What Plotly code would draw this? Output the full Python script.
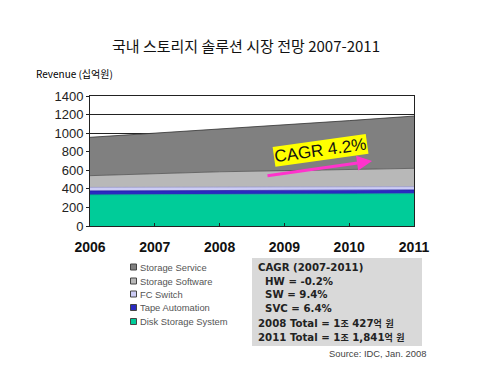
import re
import plotly.graph_objects as go

years = [2006, 2007, 2008, 2009, 2010, 2011]
series_names = ["Disk Storage System", "Tape Automation", "FC Switch", "Storage Software", "Storage Service"]
disk = [335, 337, 339, 342, 345, 348]
tape = [43, 42, 41, 40, 40, 40]
fc = [38, 38, 37, 37, 36, 36]
software = [126, 146, 167, 177, 188, 197]
service = [413, 435, 457, 491, 526, 563]
series_values = [disk, tape, fc, software, service]
colors = ["#00cc99", "#2a2ac0", "#ccccf5", "#b8b8b8", "#808080"]
line_colors = ["#00b488", "#1a1aa0", "#9999cc", "#555555", "#333333"]
yticks = [0, 200, 400, 600, 800, 1000, 1200, 1400]
box_lines = ["CAGR (2007-2011)", "  HW = -0.2%", "  SW = 9.4%",
             "  SVC = 6.4%", "2008 Total = 1조 427억 원", "2011 Total = 1조 1,841억 원"]

fig = go.Figure()
for name, vals, c, lc in zip(series_names, series_values, colors, line_colors):
    fig.add_trace(go.Scatter(x=years, y=vals, name=name, stackgroup="one", mode="lines",
                             fillcolor=c, line=dict(color=lc, width=0.8), showlegend=False))

OFF = 8  # page body margin
W, H = 492, 367
# desired plot area in screen pixels: x 90-414, y 96-226
ml, mr, mt, mb = 90 - OFF, W - (414 - OFF), 96 - OFF, H - (226 - OFF)
fig.update_layout(
    width=W, height=H, margin=dict(l=ml, r=mr, t=mt, b=mb),
    paper_bgcolor="white", plot_bgcolor="white",
    font=dict(family="Liberation Sans, Arial", color="#222"),
    xaxis=dict(range=[2006, 2011], tickvals=years, ticktext=[f"<b>{y}</b>" for y in years],
               ticks="inside", ticklen=3, tickcolor="#222", showgrid=False,
               showline=True, linecolor="#222", linewidth=1, mirror=True,
               tickfont=dict(size=14, color="#111"), ticklabelstandoff=8),
    yaxis=dict(range=[0, 1400], tickvals=yticks, ticks="outside", ticklen=3, tickcolor="#222",
               showgrid=True, gridcolor="#222", gridwidth=1,
               showline=True, linecolor="#222", linewidth=1, mirror=True,
               tickfont=dict(size=13, color="#222"), zeroline=False),
)

def ppx(x, y):
    """screen pixel -> paper coords"""
    pw = W - ml - mr
    ph = H - mt - mb
    return (x - OFF - ml) / pw, 1 - (y - OFF - mt) / ph

annotations = []
shapes = []

tx, ty = ppx(246, 45)
annotations.append(dict(text="국내 스토리지 솔루션 시장 전망 2007-2011", xref="paper", yref="paper",
                        x=tx, y=ty, showarrow=False, xanchor="center", yanchor="middle",
                        font=dict(family="Noto Sans CJK KR", size=15, color="#111")))
tx, ty = ppx(34, 73)
annotations.append(dict(text="Revenue (십억원)", xref="paper", yref="paper",
                        x=tx, y=ty, showarrow=False, xanchor="left", yanchor="middle",
                        font=dict(family="Noto Sans CJK KR", size=10, color="#000")))

# legend (manual, compact)
leg_ys = [267, 281, 294, 307.5, 321.5]
for yy, (name, c, lc) in zip(leg_ys, reversed(list(zip(series_names, colors, line_colors)))):
    x0, y0 = ppx(130.5, yy - 3)
    x1, y1 = ppx(136.5, yy + 3)
    shapes.append(dict(type="rect", xref="paper", yref="paper", x0=x0, x1=x1, y0=y0, y1=y1,
                       fillcolor=c, line=dict(color="#444", width=1)))
    tx, ty = ppx(138, yy)
    annotations.append(dict(text=name, xref="paper", yref="paper", x=tx, y=ty, showarrow=False,
                            xanchor="left", yanchor="middle",
                            font=dict(family="Liberation Sans, Arial", size=9.4, color="#555")))

# gray box
bx0, by0 = ppx(252, 258)
bx1, by1 = ppx(422, 346)
shapes.append(dict(type="rect", xref="paper", yref="paper", x0=bx0, x1=bx1, y0=by1, y1=by0,
                   fillcolor="#d9d9d9", line=dict(width=0), layer="below"))
line_ys = [267, 281, 294.5, 308, 323.5, 337]

def fmt_box(t):
    t = t.replace("  ", "&nbsp;&nbsp;")
    t = re.sub(r"([\uac00-\ud7a3]+)", r'<span style="font-size:9px">\1</span>', t)
    return f"<b>{t}</b>"

for t, yy in zip(box_lines, line_ys):
    tx, ty = ppx(256, yy)
    annotations.append(dict(text=fmt_box(t), xref="paper", yref="paper", x=tx, y=ty, showarrow=False,
                            xanchor="left", yanchor="middle",
                            font=dict(family="DejaVu Sans, Noto Sans CJK KR", size=10.2, color="#222")))
sx, sy = ppx(428, 353)
annotations.append(dict(text="Source: IDC, Jan. 2008", xref="paper", yref="paper", x=sx, y=sy,
                        showarrow=False, xanchor="right", yanchor="middle",
                        font=dict(family="Liberation Sans, Arial", size=9.4, color="#444")))

# CAGR arrow and label
ax_, ay_ = ppx(372, 161)
annotations.append(dict(text="", xref="paper", yref="paper", x=ax_, y=ay_, ax=-106, ay=15,
                        showarrow=True, arrowhead=2, arrowsize=1, arrowwidth=3, arrowcolor="#ff33cc"))
cx, cy = ppx(320, 150)
annotations.append(dict(text="CAGR 4.2%", xref="paper", yref="paper", x=cx, y=cy, showarrow=False,
                        xanchor="center", yanchor="middle",
                        textangle=-8, bgcolor="#ffff00", borderpad=0,
                        font=dict(family="Liberation Sans, Arial", size=17, color="#111")))

fig.update_layout(annotations=annotations, shapes=shapes)
fig.write_html("out.html")
